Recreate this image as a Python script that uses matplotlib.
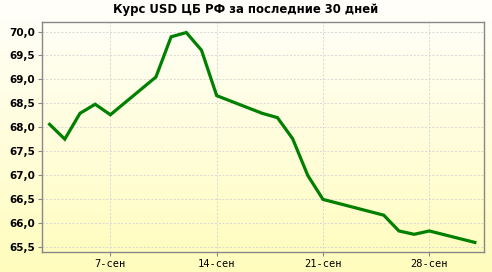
import numpy as np
import pandas as pd
import matplotlib
matplotlib.use("Agg")
import matplotlib.pyplot as plt
import matplotlib.dates as mdates

# курс USD ЦБ РФ, сентябрь 2018
dates = ["2018-09-03", "2018-09-04", "2018-09-05", "2018-09-06", "2018-09-07",
         "2018-09-10", "2018-09-11", "2018-09-12", "2018-09-13", "2018-09-14",
         "2018-09-17", "2018-09-18", "2018-09-19", "2018-09-20", "2018-09-21",
         "2018-09-25", "2018-09-26", "2018-09-27", "2018-09-28", "2018-10-01"]
rates = [68.06, 67.75, 68.29, 68.48, 68.26,
         69.05, 69.89, 69.98, 69.61, 68.66,
         68.29, 68.20, 67.76, 66.99, 66.49,
         66.16, 65.83, 65.76, 65.83, 65.59]
tick_dates = ["2018-09-07", "2018-09-14", "2018-09-21", "2018-09-28"]
tick_labels = ["7-сен", "14-сен", "21-сен", "28-сен"]
y_ticks = [65.5, 66.0, 66.5, 67.0, 67.5, 68.0, 68.5, 69.0, 69.5, 70.0]
title = "Курс USD ЦБ РФ за последние 30 дней"

x = mdates.date2num(pd.to_datetime(dates))
xt = mdates.date2num(pd.to_datetime(tick_dates))

fig = plt.figure(figsize=(4.92, 2.72), dpi=100)

# vertical gradient background, white at top -> pale yellow at bottom
bg = fig.add_axes([0, 0, 1, 1], zorder=0)
top = np.array([1.0, 1.0, 0.985])
bot = np.array([1.0, 0.99, 0.74])
t = np.linspace(0, 1, 256)[:, None]
grad = (top * (1 - t) + bot * t)[:, None, :]
bg.imshow(grad, aspect="auto", extent=[0, 1, 0, 1])
bg.set_axis_off()

W, H = 492, 272
ax = fig.add_axes([41.7 / W, 1 - 252 / H, (484.3 - 41.7) / W, (252 - 22) / H], zorder=1)
ax.patch.set_alpha(0)

ax.plot(x, rates, color="#008000", lw=2.3, solid_joinstyle="miter", zorder=3)

ax.set_xlim(xt[0] - 4.52, xt[-1] + 3.62)
ax.set_ylim(65.39, 70.2)
ax.set_xticks(xt)
ax.set_xticklabels(tick_labels, fontsize=7.5, family="DejaVu Sans Mono")
ax.set_yticks(y_ticks)
ax.set_yticklabels([("%.1f" % v).replace(".", ",") for v in y_ticks],
                   fontsize=7.5, fontweight="bold")

ax.grid(True, color="#d4d4d4", ls=(0, (2.5, 2)), lw=0.6)
ax.tick_params(axis="both", length=3, width=0.8, color="#888888", pad=2)
for s in ax.spines.values():
    s.set_color("#888888")
    s.set_linewidth(1.0)

fig.text(0.5, 1 - 10 / H, title, ha="center", va="center", fontsize=8.4, fontweight="bold")

fig.savefig("out.png", dpi=100)
